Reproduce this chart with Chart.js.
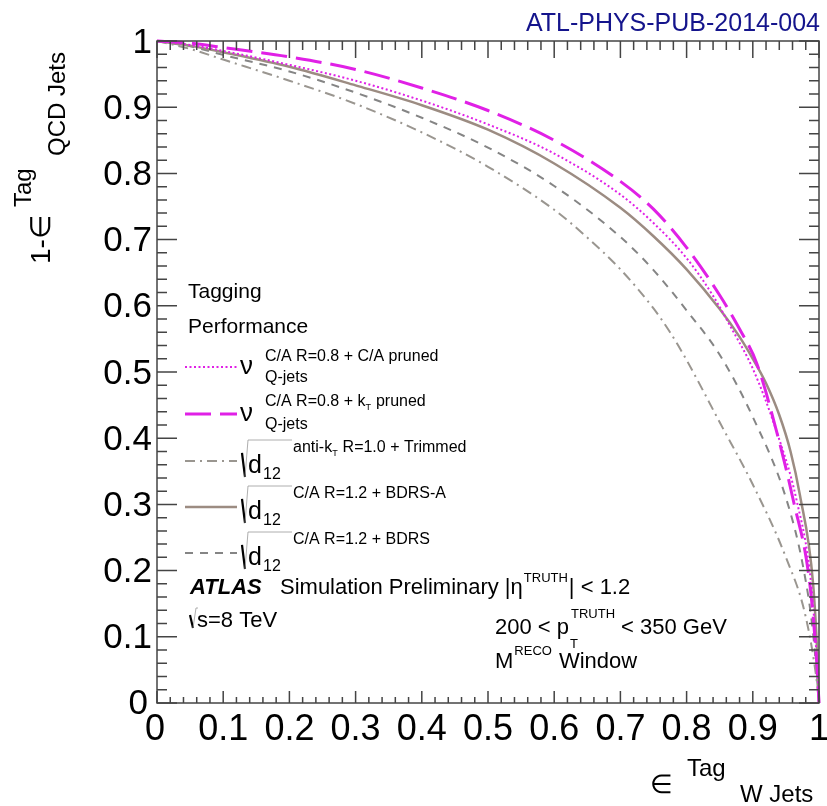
<!DOCTYPE html>
<html>
<head>
<meta charset="utf-8">
<title>W tagging performance</title>
<script src="https://cdn.jsdelivr.net/npm/chart.js@4.4.0/dist/chart.umd.min.js"></script>
<style>
  html, body { margin: 0; padding: 0; background: #fff; }
  #wrap { width: 827px; height: 806px; }
</style>
</head>
<body>
<div id="wrap"><canvas id="rocChart" width="827" height="806"></canvas></div>
<script>
// W-jet tagging efficiency (x) against QCD rejection 1 - eff (y)
const qjetsCAPrunedX = [0, 0.05, 0.1, 0.2, 0.3, 0.4, 0.5, 0.6, 0.7, 0.75, 0.8, 0.84, 0.87, 0.9, 0.936, 0.966, 0.988, 0.997, 1];
const qjetsCAPrunedY = [1, 0.994, 0.985, 0.964, 0.94, 0.91, 0.874, 0.83, 0.768, 0.725, 0.672, 0.615, 0.562, 0.505, 0.41, 0.307, 0.181, 0.06, 0];

const qjetsKtPrunedX = [0, 0.05, 0.1, 0.2, 0.3, 0.4, 0.5, 0.6, 0.7, 0.75, 0.8, 0.85, 0.88, 0.906, 0.936, 0.961, 0.986, 0.997, 1];
const qjetsKtPrunedY = [1, 0.997, 0.99, 0.976, 0.957, 0.929, 0.895, 0.85, 0.788, 0.746, 0.688, 0.616, 0.565, 0.513, 0.41, 0.307, 0.181, 0.055, 0];

const d12TrimmedX = [0, 0.05, 0.1, 0.2, 0.3, 0.4, 0.5, 0.6, 0.65, 0.7, 0.75, 0.775, 0.8, 0.85, 0.9, 0.95, 0.98, 0.997, 1];
const d12TrimmedY = [1, 0.988, 0.972, 0.94, 0.905, 0.862, 0.81, 0.745, 0.703, 0.655, 0.596, 0.56, 0.518, 0.424, 0.33, 0.22, 0.13, 0.03, 0];

const d12BdrsAX = [0, 0.05, 0.1, 0.2, 0.3, 0.4, 0.5, 0.6, 0.7, 0.75, 0.8, 0.85, 0.88, 0.9, 0.92, 0.94, 0.957, 0.971, 0.991, 0.998, 1];
const d12BdrsAY = [1, 0.993, 0.983, 0.961, 0.933, 0.903, 0.866, 0.815, 0.748, 0.705, 0.655, 0.595, 0.553, 0.52, 0.483, 0.435, 0.38, 0.315, 0.181, 0.06, 0];

const d12BdrsX = [0, 0.05, 0.1, 0.2, 0.3, 0.4, 0.5, 0.6, 0.7, 0.75, 0.8, 0.85, 0.9, 0.95, 0.976, 0.991, 1];
const d12BdrsY = [1, 0.992, 0.979, 0.954, 0.922, 0.884, 0.839, 0.781, 0.704, 0.654, 0.593, 0.526, 0.432, 0.31, 0.206, 0.106, 0];

const tickValues = [0, 0.1, 0.2, 0.3, 0.4, 0.5, 0.6, 0.7, 0.8, 0.9, 1];
const tickLabels = ['0', '0.1', '0.2', '0.3', '0.4', '0.5', '0.6', '0.7', '0.8', '0.9', '1'];

const FONT = '"Liberation Sans", Arial, Helvetica, sans-serif';
const MAGENTA = '#e020e6';

function toPoints(xs, ys) {
    return xs.map((x, i) => ({ x: x, y: ys[i] }));
}

function txt(ctx, str, x, y, size, opts) {
    opts = opts || {};
    ctx.font = (opts.style || '') + ' ' + size + 'px ' + FONT;
    ctx.fillStyle = opts.color || '#000';
    ctx.textAlign = opts.align || 'left';
    ctx.textBaseline = opts.baseline || 'alphabetic';
    ctx.fillText(str, x, y);
    return ctx.measureText(str).width;
}

// little root sign like the one ROOT draws for #sqrt
function sqrtSign(ctx, x, top, bottom, barEnd) {
    ctx.save();
    ctx.strokeStyle = '#000';
    ctx.lineWidth = 2.2;
    ctx.beginPath();
    ctx.moveTo(x, top + (bottom - top) * 0.35);
    ctx.lineTo(x + 3, bottom);
    ctx.stroke();
    ctx.strokeStyle = '#999';
    ctx.lineWidth = 0.8;
    ctx.beginPath();
    ctx.moveTo(x + 3, bottom);
    ctx.lineTo(x + 6, top);
    ctx.lineTo(barEnd, top);
    ctx.stroke();
    ctx.restore();
}

function sampleLine(ctx, ds, y) {
    ctx.save();
    ctx.strokeStyle = ds.borderColor;
    ctx.lineWidth = ds.borderWidth;
    ctx.setLineDash(ds.borderDash || []);
    ctx.beginPath();
    ctx.moveTo(185, y);
    ctx.lineTo(237, y);
    ctx.stroke();
    ctx.restore();
}

// frame, ROOT-style inward ticks, labels, legend and captions
const decorations = {
    id: 'decorations',
    afterDatasetsDraw(chart) {
        const ctx = chart.ctx;
        const xs = chart.scales.x;
        const ys = chart.scales.y;
        const L = xs.left, R = xs.right, T = ys.top, B = ys.bottom;

        ctx.save();
        ctx.strokeStyle = '#444';
        ctx.lineWidth = 1.5;
        ctx.setLineDash([]);
        ctx.strokeRect(L, T, R - L, B - T);

        ctx.beginPath();
        for (let i = 0; i <= 50; i++) {
            const v = i / 50;
            const major = i % 5 === 0;
            const px = xs.getPixelForValue(v);
            const py = ys.getPixelForValue(v);
            // bottom and top
            ctx.moveTo(px, B); ctx.lineTo(px, B - (major ? 12 : 6));
            ctx.moveTo(px, T); ctx.lineTo(px, T + (major ? 17 : 9));
            // left and right
            ctx.moveTo(L, py); ctx.lineTo(L + (major ? 20 : 10), py);
            ctx.moveTo(R, py); ctx.lineTo(R - (major ? 20 : 10), py);
        }
        ctx.stroke();

        // tick labels
        tickValues.forEach((v, i) => {
            const py = ys.getPixelForValue(v);
            const px = xs.getPixelForValue(v);
            if (v === 0) {
                txt(ctx, tickLabels[i], 148, py + 1, 35, { align: 'right', baseline: 'middle' });
            } else {
                txt(ctx, tickLabels[i], 152, py + 2, 35, { align: 'right', baseline: 'middle' });
            }
            txt(ctx, tickLabels[i], px - (v === 0 ? 2 : 0), 740, 36, { align: 'center' });
        });

        // axis titles
        txt(ctx, '\u2208', 650, 793, 26);
        txt(ctx, 'Tag', 687, 776, 24);
        txt(ctx, 'W Jets', 740, 802, 24);

        ctx.save();
        ctx.translate(50, 264);
        ctx.rotate(-Math.PI / 2);
        txt(ctx, '1-\u2208', 0, 0, 28);
        ctx.restore();
        ctx.save();
        ctx.translate(31, 207);
        ctx.rotate(-Math.PI / 2);
        txt(ctx, 'Tag', 0, 0, 24);
        ctx.restore();
        ctx.save();
        ctx.translate(65, 156);
        ctx.rotate(-Math.PI / 2);
        txt(ctx, 'QCD Jets', 0, 0, 24);
        ctx.restore();

        txt(ctx, 'ATL-PHYS-PUB-2014-004', 820, 31, 25, { align: 'right', color: '#14148c' });

        // legend
        const ds = chart.data.datasets;
        txt(ctx, 'Tagging', 188, 298, 21);
        txt(ctx, 'Performance', 188, 333, 21);

        const nuRows = [[ds[0], 367, 'C/A R=0.8 + C/A pruned'], [ds[1], 414, null]];
        nuRows.forEach(([d, y, sup]) => {
            sampleLine(ctx, d, y);
            txt(ctx, '\u03bd', 240, y + 7, 26);
            if (sup) {
                txt(ctx, sup, 265, y - 6, 16);
            } else {
                let w = txt(ctx, 'C/A R=0.8 + k', 265, y - 8, 16);
                txt(ctx, 'T', 265 + w, y - 4, 9);
                txt(ctx, ' pruned', 265 + w + 6, y - 8, 16);
            }
            txt(ctx, 'Q-jets', 265, y + 15, 16);
        });

        const sqrtRows = [[ds[2], 461, 'anti-k'], [ds[3], 507, 'C/A R=1.2 + BDRS-A'], [ds[4], 553, 'C/A R=1.2 + BDRS']];
        sqrtRows.forEach(([d, y, sup]) => {
            sampleLine(ctx, d, y);
            sqrtSign(ctx, 242, y - 21, y + 16, 292);
            txt(ctx, 'd', 248, y + 12, 25);
            txt(ctx, '12', 263, y + 18, 16);
            if (sup === 'anti-k') {
                let w = txt(ctx, 'anti-k', 293, y - 9, 16);
                txt(ctx, 'T', 293 + w, y - 5, 9);
                txt(ctx, ' R=1.0 + Trimmed', 293 + w + 6, y - 9, 16);
            } else {
                txt(ctx, sup, 293, y - 9, 16);
            }
        });

        // captions
        txt(ctx, 'ATLAS', 190, 594, 22, { style: 'italic bold' });
        let x = 280;
        x += txt(ctx, 'Simulation Preliminary', x, 594, 22) + 6;
        x += txt(ctx, '|\u03b7', x, 594, 22) + 1;
        x += txt(ctx, 'TRUTH', x, 582, 13) + 1;
        txt(ctx, '| < 1.2', x, 594, 22);

        sqrtSign(ctx, 190, 608, 628, 198);
        txt(ctx, 's=8 TeV', 197, 627, 22);

        let w = txt(ctx, '200 < p', 495, 634, 22);
        const tw = txt(ctx, 'TRUTH', 495 + w + 2, 618, 13);
        txt(ctx, 'T', 495 + w + 1, 648, 13);
        txt(ctx, '< 350 GeV', 495 + w + tw + 8, 634, 22);

        w = txt(ctx, 'M', 495, 668, 22);
        w += txt(ctx, 'RECO', 495 + w + 1, 655, 13);
        txt(ctx, 'Window', 495 + w + 8, 668, 22);

        ctx.restore();
    }
};

function curve(points, color, width, dash) {
    return {
        data: points,
        borderColor: color,
        borderWidth: width,
        borderDash: dash,
        showLine: true,
        fill: false,
        pointRadius: 0,
        cubicInterpolationMode: 'monotone',
        clip: 3
    };
}

document.addEventListener('DOMContentLoaded', function () {
    const ctx = document.getElementById('rocChart').getContext('2d');
    new Chart(ctx, {
        type: 'scatter',
        data: {
            datasets: [
                curve(toPoints(qjetsCAPrunedX, qjetsCAPrunedY), MAGENTA, 2, [2, 2.5]),
                curve(toPoints(qjetsKtPrunedX, qjetsKtPrunedY), MAGENTA, 3, [26, 9]),
                curve(toPoints(d12TrimmedX, d12TrimmedY), '#9a9690', 2, [10, 5, 2, 5]),
                curve(toPoints(d12BdrsAX, d12BdrsAY), '#9c8c82', 2.5, []),
                curve(toPoints(d12BdrsX, d12BdrsY), '#858585', 2, [8, 7])
            ]
        },
        options: {
            responsive: false,
            animation: false,
            layout: { padding: { left: 157, top: 41, right: 8, bottom: 103 } },
            scales: {
                x: { type: 'linear', min: 0, max: 1, display: false },
                y: { type: 'linear', min: 0, max: 1, display: false }
            },
            plugins: {
                legend: { display: false },
                tooltip: { enabled: false }
            }
        },
        plugins: [decorations]
    });
});
</script>
</body>
</html>
